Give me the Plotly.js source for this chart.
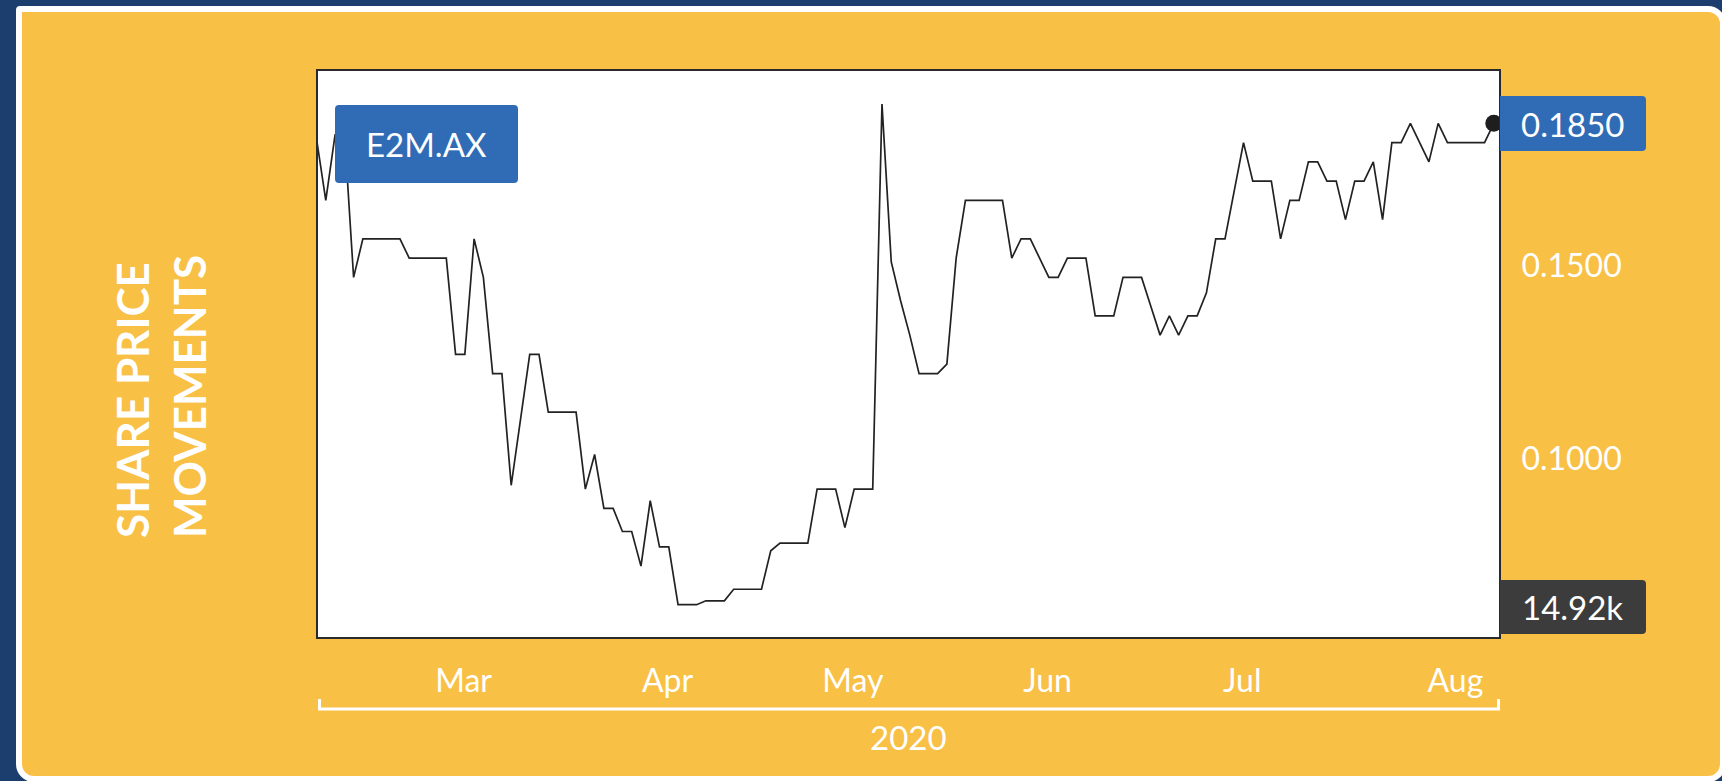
<!DOCTYPE html>
<html>
<head>
<meta charset="utf-8">
<script src="https://cdn.plot.ly/plotly-3.0.1.min.js"></script>
<style>
  html, body { margin:0; padding:0; width:1722px; height:781px; overflow:hidden; background:#1c3e6e; }
  #card { position:absolute; left:16px; top:6px; width:1710px; height:776px; box-sizing:border-box;
          border:6px solid #ffffff; border-radius:4px 18px 18px 18px; background:#f9c046; }
  #chart { position:absolute; left:0; top:0; width:1722px; height:781px; }
</style>
</head>
<body>
<div id="card"></div>
<div id="chart"></div>
<script>
// ---- data ----
const dates = [
  "2020-02-10","2020-02-11","2020-02-12","2020-02-13","2020-02-14","2020-02-17","2020-02-18","2020-02-19","2020-02-20","2020-02-21","2020-02-24","2020-02-25","2020-02-26","2020-02-27","2020-02-28",
  "2020-03-02","2020-03-03","2020-03-04","2020-03-05","2020-03-06","2020-03-09","2020-03-10","2020-03-11","2020-03-12","2020-03-13","2020-03-16","2020-03-17","2020-03-18","2020-03-19","2020-03-20","2020-03-23","2020-03-24","2020-03-25","2020-03-26","2020-03-27","2020-03-30","2020-03-31",
  "2020-04-01","2020-04-02","2020-04-03","2020-04-06","2020-04-07","2020-04-08","2020-04-09","2020-04-14","2020-04-15","2020-04-16","2020-04-17","2020-04-20","2020-04-21","2020-04-22","2020-04-23","2020-04-24","2020-04-27","2020-04-28","2020-04-29","2020-04-30",
  "2020-05-01","2020-05-04","2020-05-05","2020-05-06","2020-05-07","2020-05-08","2020-05-11","2020-05-12","2020-05-13","2020-05-14","2020-05-15","2020-05-18","2020-05-19","2020-05-20","2020-05-21","2020-05-22","2020-05-25","2020-05-26","2020-05-27","2020-05-28","2020-05-29",
  "2020-06-01","2020-06-02","2020-06-03","2020-06-04","2020-06-05","2020-06-09","2020-06-10","2020-06-11","2020-06-12","2020-06-15","2020-06-16","2020-06-17","2020-06-18","2020-06-19","2020-06-22","2020-06-23","2020-06-24","2020-06-25","2020-06-26","2020-06-29","2020-06-30",
  "2020-07-01","2020-07-02","2020-07-03","2020-07-06","2020-07-07","2020-07-08","2020-07-09","2020-07-10","2020-07-13","2020-07-14","2020-07-15","2020-07-16","2020-07-17","2020-07-20","2020-07-21","2020-07-22","2020-07-23","2020-07-24","2020-07-27","2020-07-28","2020-07-29","2020-07-30","2020-07-31",
  "2020-08-03","2020-08-04","2020-08-05","2020-08-06","2020-08-07","2020-08-10"
];
const prices = [
  0.181,0.165,0.182,0.183,0.145,0.155,0.155,0.155,0.155,0.155,0.150,0.150,0.150,0.150,0.150,
  0.125,0.125,0.155,0.145,0.120,0.120,0.091,0.108,0.125,0.125,0.110,0.110,0.110,0.110,0.090,0.099,0.085,0.085,0.079,0.079,0.070,0.087,
  0.075,0.075,0.060,0.060,0.060,0.061,0.061,0.061,0.064,0.064,0.064,0.064,0.074,0.076,0.076,0.076,0.076,0.090,0.090,0.090,
  0.080,0.090,0.090,0.090,0.190,0.149,0.139,0.130,0.120,0.120,0.120,0.1225,0.150,0.165,0.165,0.165,0.165,0.165,0.150,0.155,0.155,
  0.150,0.145,0.145,0.150,0.150,0.150,0.135,0.135,0.135,0.145,0.145,0.145,0.1375,0.130,0.135,0.130,0.135,0.135,0.141,0.155,0.155,
  0.1675,0.180,0.170,0.170,0.170,0.155,0.165,0.165,0.175,0.175,0.170,0.170,0.160,0.170,0.170,0.175,0.160,0.180,0.180,0.185,0.180,0.175,0.185,
  0.180,0.180,0.180,0.180,0.180,0.185
];
const monthTickDates = ["2020-03-02","2020-04-01","2020-05-01","2020-06-01","2020-07-01","2020-08-03"];
const monthTickLabels = ["Mar","Apr","May","Jun","Jul","Aug"];
const yTickVals = [0.10, 0.15];
const yTickText = ["0.1000","0.1500"];
const tickerLabel = "E2M.AX";
const lastPriceLabel = "0.1850";
const volumeLabel = "14.92k";
const yearLabel = "2020";
const sideTitle = "SHARE PRICE<br>MOVEMENTS";

// ---- layout helpers (pixel -> paper) ----
const W = 1722, H = 781;
const M = {l:318, r:223, t:71, b:144};
const PW = W - M.l - M.r, PH = H - M.t - M.b;
const px = X => (X - M.l) / PW;
const py = Y => (H - M.b - Y) / PH;
function rrect(x0, y0, x1, y1, rTL, rTR, rBR, rBL) {
  const P = (X, Y) => px(X) + ',' + py(Y);
  return 'M' + P(x0 + rTL, y0) + ' L' + P(x1 - rTR, y0) + ' Q' + P(x1, y0) + ' ' + P(x1, y0 + rTR) +
         ' L' + P(x1, y1 - rBR) + ' Q' + P(x1, y1) + ' ' + P(x1 - rBR, y1) +
         ' L' + P(x0 + rBL, y1) + ' Q' + P(x0, y1) + ' ' + P(x0, y1 - rBL) +
         ' L' + P(x0, y0 + rTL) + ' Q' + P(x0, y0) + ' ' + P(x0 + rTL, y0) + ' Z';
}

const FONT = 'Lato, "Open Sans", sans-serif';
const BLUE = '#2f6cb5';
const DARK = '#3c3c3c';

const last = dates.length - 1;
const traces = [
  { type:'scatter', mode:'lines', x:dates, y:prices,
    line:{color:'#222222', width:1.7}, hoverinfo:'skip', showlegend:false },
  { type:'scatter', mode:'markers', x:[dates[last]], y:[prices[last]],
    marker:{color:'#1e1e1e', size:17}, cliponaxis:false, hoverinfo:'skip', showlegend:false }
];

const layout = {
  width:W, height:H, margin:M,
  paper_bgcolor:'rgba(0,0,0,0)', plot_bgcolor:'#ffffff',
  showlegend:false,
  font:{family:FONT, color:'#ffffff', size:32},
  xaxis:{
    type:'category', range:[0.16, 127.56],
    showline:true, mirror:true, linecolor:'#2a2a2a', linewidth:2,
    showgrid:false, zeroline:false, ticks:'',
    tickvals:monthTickDates, ticktext:monthTickLabels,
    tickfont:{family:FONT, size:32, color:'#ffffff'},
    ticklabelshift:8, ticklabelstandoff:15
  },
  yaxis:{
    side:'right', range:[0.0516, 0.1986],
    showline:true, mirror:true, linecolor:'#2a2a2a', linewidth:2,
    showgrid:false, zeroline:false, ticks:'',
    tickvals:yTickVals, ticktext:yTickText,
    tickfont:{family:FONT, size:32, color:'#ffffff'},
    ticklabelshift:8, ticklabelstandoff:14
  },
  shapes:[
    {type:'path', xref:'paper', yref:'paper', layer:'above', line:{width:0}, fillcolor:BLUE,
     path:rrect(335,105,518,183,4,4,4,4)},
    {type:'path', xref:'paper', yref:'paper', layer:'above', line:{width:0}, fillcolor:BLUE,
     path:rrect(1500,96,1646,151,0,4,4,0)},
    {type:'path', xref:'paper', yref:'paper', layer:'above', line:{width:0}, fillcolor:DARK,
     path:rrect(1500,580,1646,634,0,4,4,0)},
    {type:'path', xref:'paper', yref:'paper', layer:'above', line:{color:'#ffffff', width:3},
     path:'M' + px(319.5) + ',' + py(699) + ' L' + px(319.5) + ',' + py(709) + ' L' + px(1498.5) + ',' + py(709) + ' L' + px(1498.5) + ',' + py(699)}
  ],
  annotations:[
    {xref:'paper', yref:'paper', x:px(426.5), y:py(144), text:tickerLabel, showarrow:false,
     xanchor:'center', yanchor:'middle', font:{family:FONT, size:33, color:'#ffffff'}},
    {xref:'paper', yref:'paper', x:px(1573), y:py(123.5), text:lastPriceLabel, showarrow:false,
     xanchor:'center', yanchor:'middle', font:{family:FONT, size:33, color:'#ffffff'}},
    {xref:'paper', yref:'paper', x:px(1573), y:py(607), text:volumeLabel, showarrow:false,
     xanchor:'center', yanchor:'middle', font:{family:FONT, size:33, color:'#ffffff'}},
    {xref:'paper', yref:'paper', x:0.5, y:py(737), text:yearLabel, showarrow:false,
     xanchor:'center', yanchor:'middle', font:{family:FONT, size:33, color:'#ffffff'}},
    {xref:'paper', yref:'paper', x:px(160), y:py(397), text:sideTitle, showarrow:false,
     textangle:-90, align:'left', xanchor:'center', yanchor:'middle',
     font:{family:FONT, size:44, color:'#ffffff', weight:700}}
  ]
};

Plotly.newPlot('chart', traces, layout, {displayModeBar:false, staticPlot:true});
</script>
</body>
</html>
